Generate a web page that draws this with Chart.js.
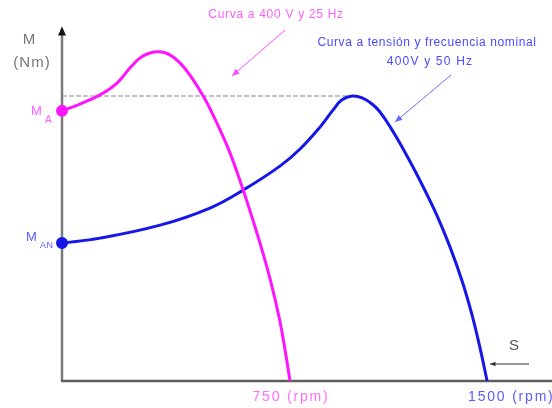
<!DOCTYPE html>
<html>
<head>
<meta charset="utf-8">
<script src="https://cdn.jsdelivr.net/npm/chart.js@4"></script>
<style>
  html, body { margin: 0; padding: 0; background: #fff; }
  canvas { display: block; }
</style>
</head>
<body>
<canvas id="torqueChart" width="552" height="408"></canvas>
<script>
// Curva a 400 V y 25 Hz (speed in rpm, torque in arbitrary units)
const rpm25Hz = [0, 59, 125, 181, 224, 257, 289, 322, 355, 388, 421, 467, 500, 549, 595, 625, 658, 688, 714, 734, 750];
const torque25Hz = [70.9, 72.7, 75.1, 78.2, 82.2, 84.8, 86.1, 86.4, 85.6, 83.5, 80.3, 74.5, 69.3, 60.6, 50.4, 43.0, 34.4, 25.7, 16.8, 8.1, 0];

// Curva a tension y frecuencia nominal, 400 V y 50 Hz
const rpm50Hz = [0, 134, 346, 522, 639, 769, 840, 911, 956, 988, 1024, 1059, 1094, 1122, 1158, 1200, 1264, 1324, 1369, 1412, 1447, 1475, 1500];
const torque50Hz = [36.2, 37.5, 40.9, 45.4, 50.1, 56.4, 60.9, 66.7, 71.1, 73.8, 74.8, 74.3, 72.7, 70.6, 66.7, 61.4, 52.5, 43.3, 35.2, 26.2, 17.3, 8.7, 0];

// synchronous speeds and their labels
const syncSpeeds = [750, 1500];
const tickLabels = ["750 (rpm)", "1500 (rpm)"];

const toPoints = (xs, ys) => xs.map((x, i) => ({ x: x, y: ys[i] }));

// dashed reference line at the nominal pull-out torque
const peakTorque = Math.max(...torque50Hz);
const peakRpm = rpm50Hz[torque50Hz.indexOf(peakTorque)];

const FONT = "'Liberation Sans', Arial, sans-serif";

function drawArrow(ctx, x1, y1, x2, y2, color, head) {
  const ang = Math.atan2(y2 - y1, x2 - x1);
  ctx.save();
  ctx.strokeStyle = color;
  ctx.fillStyle = color;
  ctx.lineWidth = 1;
  ctx.beginPath();
  ctx.moveTo(x1, y1);
  ctx.lineTo(x2, y2);
  ctx.stroke();
  ctx.beginPath();
  ctx.moveTo(x2, y2);
  ctx.lineTo(x2 - head * Math.cos(ang - 0.4), y2 - head * Math.sin(ang - 0.4));
  ctx.lineTo(x2 - head * Math.cos(ang + 0.4), y2 - head * Math.sin(ang + 0.4));
  ctx.closePath();
  ctx.fill();
  ctx.restore();
}

function label(ctx, text, x, y, font, color, align, spacing) {
  ctx.font = font + " " + FONT;
  ctx.fillStyle = color;
  ctx.textAlign = align;
  ctx.letterSpacing = (spacing || 0) + "px";
  ctx.fillText(text, x, y);
}

const axesPlugin = {
  id: "axesPlugin",
  beforeDatasetsDraw(chart) {
    const ctx = chart.ctx;
    const area = chart.chartArea;
    const y = chart.scales.y;
    const x0 = area.left;
    const y0 = y.getPixelForValue(0);
    const yTop = y.getPixelForValue(92);
    ctx.save();
    // y axis
    ctx.strokeStyle = "#7a7a7a";
    ctx.lineWidth = 2.5;
    ctx.beginPath();
    ctx.moveTo(x0, y0);
    ctx.lineTo(x0, yTop + 4);
    ctx.stroke();
    ctx.fillStyle = "#111";
    ctx.beginPath();
    ctx.moveTo(x0, yTop - 4);
    ctx.lineTo(x0 - 4, yTop + 5);
    ctx.lineTo(x0 + 4, yTop + 5);
    ctx.closePath();
    ctx.fill();
    // x axis
    ctx.strokeStyle = "#5e5e5e";
    ctx.lineWidth = 2.5;
    ctx.beginPath();
    ctx.moveTo(x0 - 1, y0);
    ctx.lineTo(area.right, y0);
    ctx.stroke();
    ctx.restore();
  },
  afterDraw(chart) {
    const ctx = chart.ctx;
    const y = chart.scales.y;
    const xA = chart.scales.x2;
    const xB = chart.scales.x;
    const y0 = y.getPixelForValue(0);
    ctx.save();
    ctx.textBaseline = "middle";

    // axis title
    label(ctx, "M", 29, 40, "15px", "#777", "center", 0);
    label(ctx, "(Nm)", 32, 63, "15px", "#777", "center", 1);

    // starting torque labels
    const yMA = y.getPixelForValue(torque25Hz[0]);
    label(ctx, "M", 31, yMA + 1, "13px", "#ff5cff", "left", 0);
    label(ctx, "A", 45, yMA + 9, "10px", "#ff5cff", "left", 0);

    const yMAN = y.getPixelForValue(torque50Hz[0]);
    label(ctx, "M", 26, yMAN - 6, "13px", "#5c5cff", "left", 0);
    label(ctx, "AN", 40, yMAN + 2, "9px", "#5c5cff", "left", 0.5);

    // synchronous speed labels
    label(ctx, tickLabels[0], xA.getPixelForValue(syncSpeeds[0]) + 1, y0 + 16, "14px", "#ff6cff", "center", 1.8);
    label(ctx, tickLabels[1], xB.getPixelForValue(syncSpeeds[1]) - 19, y0 + 16, "14px", "#5a5aff", "left", 1.8);

    // curve captions
    label(ctx, "Curva a 400 V y 25 Hz", 276, 15, "12px", "#ff5cff", "center", 0.7);
    drawArrow(ctx, 285, 30, 232, 76, "#ff4cff", 8);

    label(ctx, "Curva a tensión y frecuencia nominal", 427, 43, "12px", "#4a4aff", "center", 0.6);
    label(ctx, "400V y 50 Hz", 430, 62, "12px", "#4a4aff", "center", 1.2);
    drawArrow(ctx, 451, 75, 395, 122, "#6a6aff", 8);

    // slip
    label(ctx, "S", 514, 346, "15px", "#555", "center", 0);
    drawArrow(ctx, 529, 364, 490, 364, "#333", 6);
    ctx.restore();
  }
};

new Chart(document.getElementById("torqueChart"), {
  type: "line",
  data: {
    datasets: [
      {
        label: "Curva a 400 V y 25 Hz",
        data: toPoints(rpm25Hz, torque25Hz),
        xAxisID: "x2",
        borderColor: "#ff14ff",
        backgroundColor: "#ff14ff",
        borderWidth: 3,
        tension: 0.4,
        pointRadius: (c) => (c.dataIndex === 0 ? 4.5 : 0),
        clip: false
      },
      {
        label: "Curva a tensión y frecuencia nominal",
        data: toPoints(rpm50Hz, torque50Hz),
        xAxisID: "x",
        borderColor: "#1616e8",
        backgroundColor: "#1616e8",
        borderWidth: 3,
        tension: 0.4,
        pointRadius: (c) => (c.dataIndex === 0 ? 4.5 : 0),
        clip: false
      },
      {
        label: "M max",
        data: [{ x: 0, y: peakTorque }, { x: peakRpm, y: peakTorque }],
        xAxisID: "x",
        borderColor: "#8a8a8a",
        borderWidth: 1,
        borderDash: [5, 2],
        pointRadius: 0,
        clip: false
      }
    ]
  },
  options: {
    responsive: false,
    animation: false,
    layout: { autoPadding: false, padding: { left: 62, right: 0, top: 0, bottom: 27 } },
    plugins: { legend: { display: false }, tooltip: { enabled: false } },
    scales: {
      x: { type: "linear", display: false, min: 0, max: 1729 },
      x2: { type: "linear", display: false, min: 0, max: 1612 },
      y: { type: "linear", display: false, min: 0, max: 100 }
    }
  },
  plugins: [axesPlugin]
});
</script>
</body>
</html>
